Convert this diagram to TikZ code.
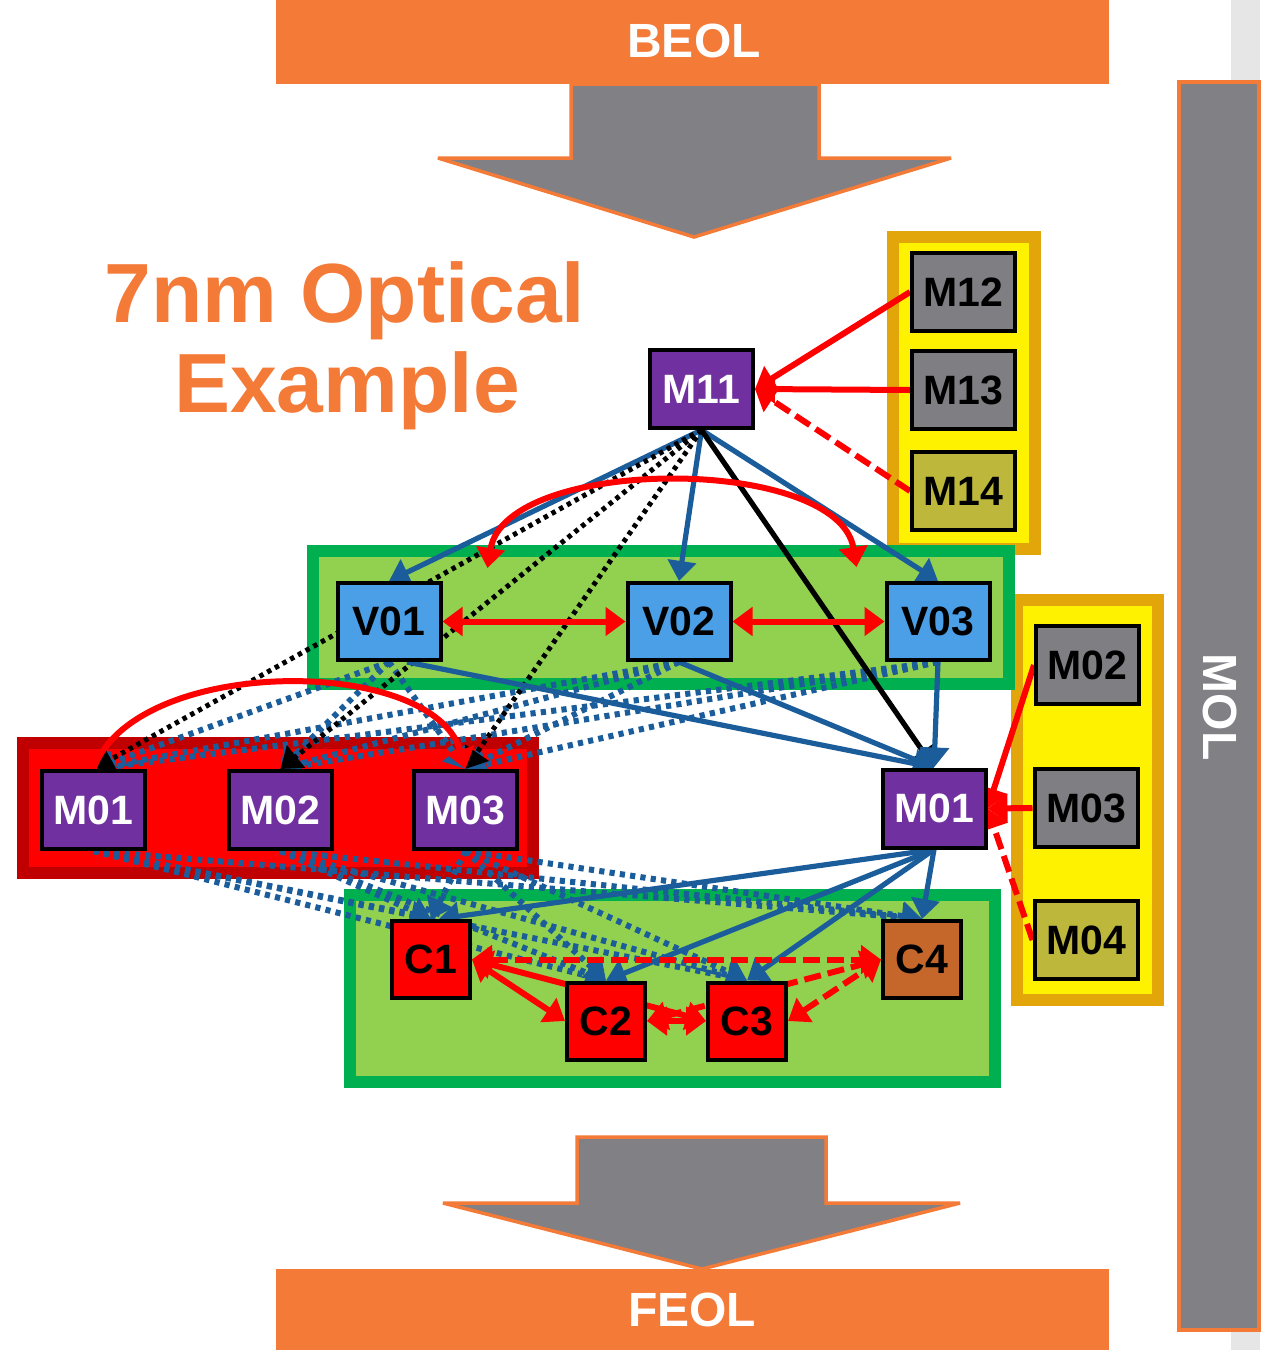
\documentclass[tikz,border=0pt]{standalone}
\usepackage{fontspec}
\setmainfont{Liberation Sans}
\usepackage{xcolor}
\usepackage{tikz}
\usetikzlibrary{arrows.meta, positioning}

\definecolor{orng}{HTML}{F47A38}
\definecolor{arrgray}{HTML}{808085}
\definecolor{mpurple}{HTML}{7030A0}
\definecolor{mgray}{HTML}{7F7F83}
\definecolor{molive}{HTML}{BDB83C}
\definecolor{vblue}{HTML}{4A9FE6}
\definecolor{lblue}{HTML}{1B5D9A}
\definecolor{dgreen}{HTML}{00B050}
\definecolor{lgreen}{HTML}{92D050}
\definecolor{dred}{HTML}{C00000}
\definecolor{gold}{HTML}{E2A60A}
\definecolor{cbrown}{HTML}{C5672B}
\definecolor{stripgray}{HTML}{E6E6E6}

\pgfdeclarelayer{groups}
\pgfdeclarelayer{links}
\pgfsetlayers{groups,links,main}

\begin{document}
\begin{tikzpicture}[x=0.5pt, y=-0.5pt, >={Triangle[length=10pt,width=14pt]},
    box/.style={draw=black, line width=2pt, inner sep=0pt,
      minimum width=51.5pt, minimum height=39pt,
      font=\bfseries\fontsize{20.5pt}{23pt}\selectfont},
    pnode/.style={box, fill=mpurple, text=white},
    gnode/.style={box, fill=mgray},
    onode/.style={box, fill=molive},
    vnode/.style={box, fill=vblue, minimum height=38.5pt},
    cnode/.style={box, fill=red, minimum width=39pt, minimum height=38.5pt},
    bartext/.style={text=white, font=\bfseries\fontsize{24pt}{28pt}\selectfont},
    titletext/.style={text=orng, font=\bfseries\fontsize{42pt}{48pt}\selectfont},
    redline/.style={draw=red, line width=3pt},
    reddash/.style={redline, dash pattern=on 8.5pt off 3.5pt},
    blueline/.style={draw=lblue, line width=2.6pt},
    bluedot/.style={draw=lblue, line width=3pt, dash pattern=on 2.6pt off 2.6pt},
    blackline/.style={draw=black, line width=2.6pt},
    blackdot/.style={draw=black, line width=2.5pt, dash pattern=on 2.2pt off 2.2pt}]
    \useasboundingbox (0,0) rectangle (1260,1350);

    % bars, big arrows and group boxes
    \begin{pgfonlayer}{groups}
    \fill[stripgray] (1231,0) rectangle (1260,1350);
    \draw[orng, line width=1.75pt, miter limit=2, fill=arrgray] (571,84) -- (571,158) -- (438,158) -- (694,237)
      -- (951,158) -- (819,158) -- (819,84) -- cycle;
    \fill[orng] (276,0) rectangle (1109,84);
    \draw[orng, line width=1.75pt, miter limit=2, fill=arrgray] (577,1137) -- (577,1203) -- (443,1203) -- (702,1269)
      -- (960,1203) -- (826,1203) -- (826,1137) -- cycle;
    \fill[orng] (276,1269) rectangle (1109,1350);
    \draw[orng, line width=2pt, fill=arrgray] (1179,82) rectangle (1259,1330);

    \draw[gold, line width=6pt, fill=yellow] (893,237) rectangle (1034.5,549);
    \draw[gold, line width=6pt, fill=yellow] (1017,600) rectangle (1158,1000);
    \draw[dgreen, line width=6pt, fill=lgreen] (313,551) rectangle (1009,684);
    \draw[dred, line width=6pt, fill=red] (23,743) rectangle (533,873);
    \draw[dgreen, line width=6pt, fill=lgreen] (350,895) rectangle (995,1082);
    \end{pgfonlayer}

    \node[bartext] (beol) at (694,41) {BEOL};
    \node[bartext] (feol) at (692,1310) {FEOL};
    \node[bartext, rotate=-90] (mol) at (1220,707) {MOL};
    \node[titletext, anchor=base] (title1) at (345,322) {7nm Optical};
    \node[titletext, anchor=base] (title2) at (347,412) {Example};

    \node[pnode] (M11) at (701.5,389) {M11};
    \node[gnode] (M12) at (963.5,292) {M12};
    \node[gnode] (M13) [below=8pt of M12] {M13};
    \node[onode] (M14) [below=9.5pt of M13] {M14};

    \node[vnode] (V01) at (389,621.5) {V01};
    \node[vnode] (V02) [right=91.5pt of V01] {V02};
    \node[vnode] (V03) [right=76pt of V02] {V03};

    \node[pnode] (M01) at (93.5,810) {M01};
    \node[pnode] (M02) [right=40pt of M01] {M02};
    \node[pnode] (M03) [right=39pt of M02] {M03};

    \node[pnode] (M01r) at (934,808.5) {M01};
    \node[gnode] (M02r) at (1087.5,665) {M02};
    \node[gnode] (M03r) at (1086,808) {M03};
    \node[onode] (M04r) at (1086,940) {M04};

    \node[cnode] (C1) at (431,959.5) {C1};
    \node[cnode] (C2) at (606,1021) {C2};
    \node[cnode] (C3) at (747,1021) {C3};
    \node[cnode, fill=cbrown] (C4) at (922,959.5) {C4};

    \begin{pgfonlayer}{links}
    % dotted fans V -> M row -> C row
    \foreach \v in {V01,V02,V03}
      \foreach \m in {M01,M02,M03}
        \draw[bluedot, ->] (\v.south) -- (\m.north);
    \foreach \m in {M01,M02,M03}
      \foreach \c in {C1,C2,C3,C4}
        \draw[bluedot, ->] (\m.south) -- (\c.north);

    \path[->]
      (M12.west) edge[redline] (M11.east)
      (M13.west) edge[redline] (M11.east)
      (M14.west) edge[reddash] (M11.east)
      (M11.south) edge[blueline] (V01.north)
      (M11.south) edge[blueline] (V02.north)
      (M11.south) edge[blueline] (V03.north)
      (M11.south) edge[blackline] (M01r.north)
      (M11.south) edge[blackdot] (M01.north)
      (M11.south) edge[blackdot] (M02.north)
      (M11.south) edge[blackdot] (M03.north)
      (V01.east) edge[redline, <->] (V02.west)
      (V02.east) edge[redline, <->] (V03.west)
      ([xshift=9pt]V01.south) edge[blueline] (M01r.north)
      (V02.south) edge[blueline] (M01r.north)
      (V03.south) edge[blueline] (M01r.north)
      (M02r.west) edge[redline] (M01r.east)
      (M03r.west) edge[redline] (M01r.east)
      (M04r.west) edge[reddash] (M01r.east)
      (M01r.south) edge[blueline] ([xshift=4pt]C1.north)
      (M01r.south) edge[blueline] (C2.north)
      (M01r.south) edge[blueline] (C3.north)
      (M01r.south) edge[blueline] (C4.north)
      (C1.east) edge[redline, <->] (C2.west)
      (C1.east) edge[redline, <->] (C3.west)
      (C2.east) edge[redline, <->] (C3.west)
      (C1.east) edge[reddash, <->] (C4.west)
      (C2.east) edge[reddash, <->] (C4.west)
      (C3.east) edge[reddash, <->] (C4.west);

    \draw[redline, <->] ([xshift=22.5pt,yshift=6.5pt]V01.north east) .. controls +(18,-113) and +(-18,-112) .. ([xshift=-14pt,yshift=7pt]V03.north west);
    \draw[redline, ->] (M01.north) .. controls +(41.5,-114) and +(-32.5,-114) .. (M03.north);
    \end{pgfonlayer}
\end{tikzpicture}
\end{document}
